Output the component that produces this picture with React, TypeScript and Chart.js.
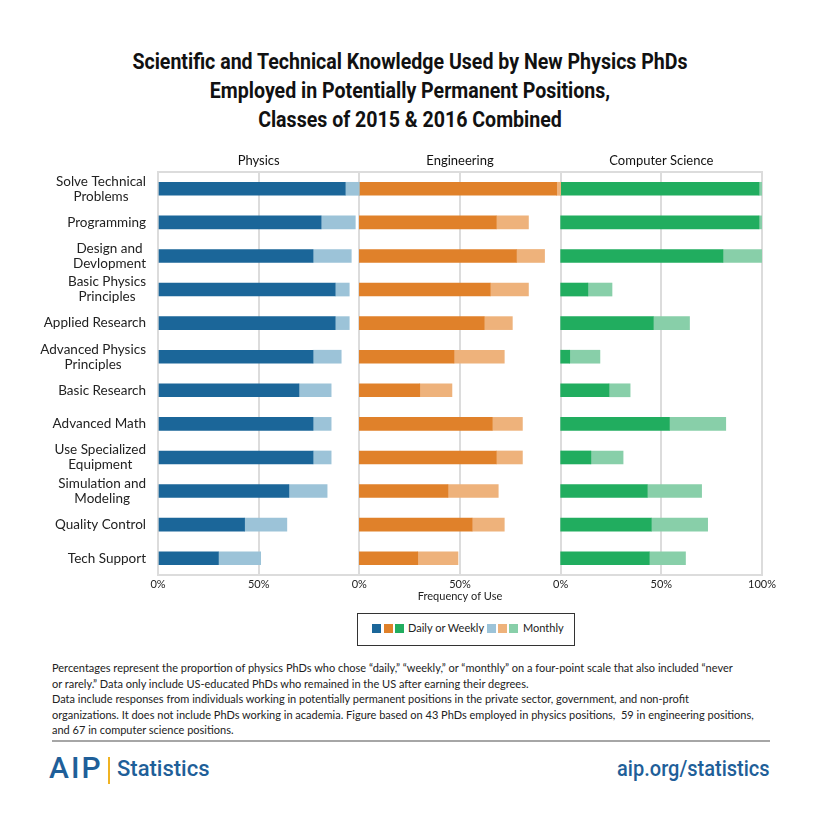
import React, { useEffect, useRef } from "react";
import { Chart, registerables } from "chart.js";
Chart.register(...registerables);

const categories: string[][] = [
  ["Solve Technical", "Problems"],
  ["Programming"],
  ["Design and", "Devlopment"],
  ["Basic Physics", "Principles"],
  ["Applied Research"],
  ["Advanced Physics", "Principles"],
  ["Basic Research"],
  ["Advanced Math"],
  ["Use Specialized", "Equipment"],
  ["Simulation and", "Modeling"],
  ["Quality Control"],
  ["Tech Support"],
];
const fields = ["Physics", "Engineering", "Computer Science"];
const physicsDaily = [93, 81, 77, 88, 88, 77, 70, 77, 77, 65, 43, 30];
const physicsMonthly = [7, 17, 19, 7, 7, 14, 16, 9, 9, 19, 21, 21];
const engineeringDaily = [98, 68, 78, 65, 62, 47, 30, 66, 68, 44, 56, 29];
const engineeringMonthly = [2, 16, 14, 19, 14, 25, 16, 15, 13, 25, 16, 20];
const csDaily = [98.5, 98.5, 80.6, 13.5, 46, 4.5, 24, 54, 15, 43, 45, 44];
const csMonthly = [1.5, 1.5, 19.4, 12, 18, 15, 10.5, 28, 16, 27, 28, 18];
const tickValues = [0, 50, 100, 150, 200, 250, 300];
const tickLabels = ["0%", "50%", "0%", "50%", "0%", "50%", "100%"];
const headerValues = [50, 150, 250];
const darkColors = ["#1b6699", "#e0812a", "#21ad5f"];
const lightColors = ["#9cc3d8", "#eeb27b", "#88cfa9"];

const LABEL_FONT = "Lato, 'Open Sans', sans-serif";

const catLabelPlugin = {
  id: "catLabels",
  afterDraw(chart: any) {
    const { ctx, chartArea } = chart;
    const y = chart.scales.y;
    ctx.save();
    ctx.font = `13.5px ${LABEL_FONT}`;
    ctx.fillStyle = "#222";
    ctx.textAlign = "center";
    ctx.textBaseline = "middle";
    categories.forEach((lines, i) => {
      const py = y.getPixelForValue(i);
      const w = Math.max(...lines.map((l) => ctx.measureText(l).width));
      const cx = chartArea.left - 12 - w / 2;
      const lh = 15;
      lines.forEach((l, j) => ctx.fillText(l, cx, py + (j - (lines.length - 1) / 2) * lh));
    });
    ctx.restore();
  },
};

function ChartCanvas() {
  const ref = useRef<HTMLCanvasElement | null>(null);
  useEffect(() => {
    const daily = [physicsDaily, engineeringDaily, csDaily];
    const monthly = [physicsMonthly, engineeringMonthly, csMonthly];
    const datasets: any[] = [];
    fields.forEach((f, p) => {
      const off = p * 100;
      datasets.push({
        label: f + " Daily or Weekly",
        data: daily[p].map((v) => [off, off + v]),
        backgroundColor: darkColors[p],
        borderWidth: 0,
        grouped: false,
        barThickness: 13,
      });
      datasets.push({
        label: f + " Monthly",
        data: monthly[p].map((v, i) => [off + daily[p][i], off + daily[p][i] + v]),
        backgroundColor: lightColors[p],
        borderWidth: 0,
        grouped: false,
        barThickness: 13,
      });
    });
    const chart = new Chart(ref.current as HTMLCanvasElement, {
      type: "bar",
      data: { labels: categories.map((c) => c.join(" ")), datasets },
      plugins: [catLabelPlugin],
      options: {
        indexAxis: "y",
        animation: false,
        responsive: false,
        devicePixelRatio: 1,
        layout: { padding: { left: 0, right: 58, top: 0, bottom: 0 } },
        plugins: { legend: { display: false }, tooltip: { enabled: false } },
        scales: {
          x: {
            type: "linear",
            position: "bottom",
            min: 0,
            max: 300,
            afterBuildTicks: (s: any) => {
              s.ticks = tickValues.map((v) => ({ value: v }));
            },
            ticks: {
              autoSkip: false,
              maxRotation: 0,
              padding: 3,
              color: "#222",
              font: { family: LABEL_FONT, size: 11 },
              callback: (_v: any, i: number) => tickLabels[i],
            },
            grid: { color: "#dcdcdc", lineWidth: 2, drawTicks: false },
            border: { color: "#dcdcdc", width: 2 },
            title: {
              display: true,
              text: "Frequency of Use",
              color: "#222",
              font: { family: LABEL_FONT, size: 11 },
              padding: { top: 0, bottom: 7 },
            },
            afterFit: (s: any) => {
              s.height = 35;
            },
          },
          x2: {
            type: "linear",
            position: "top",
            min: 0,
            max: 300,
            afterBuildTicks: (s: any) => {
              s.ticks = headerValues.map((v) => ({ value: v }));
            },
            ticks: {
              autoSkip: false,
              maxRotation: 0,
              padding: 3,
              color: "#111",
              font: { family: LABEL_FONT, size: 13 },
              callback: (_v: any, i: number) => fields[i],
            },
            grid: { display: false, drawTicks: false },
            border: { display: true, color: "#dcdcdc", width: 2 },
            afterFit: (s: any) => {
              s.height = 27;
            },
          },
          y: {
            type: "category",
            ticks: { display: false },
            grid: { display: false, drawTicks: false },
            border: { display: false },
            afterFit: (s: any) => {
              s.width = 158;
            },
          },
        },
      } as any,
    });
    return () => chart.destroy();
  }, []);
  return (
    <canvas
      ref={ref}
      width={820}
      height={465}
      style={{ position: "absolute", left: 0, top: 145, width: 820, height: 465 }}
    />
  );
}

const sq = (left: number, color: string) => (
  <div style={{ position: "absolute", left, top: 10, width: 9, height: 9, background: color }} />
);

export default function App() {
  useEffect(() => {
    document.body.style.margin = "0";
  }, []);
  const blue = "#1f5f99";
  return (
    <div style={{ position: "relative", width: 820, height: 820, background: "#fff", overflow: "hidden" }}>
      <div
        style={{
          position: "absolute",
          left: 0,
          top: 47,
          width: 820,
          textAlign: "center",
          fontFamily: "Roboto, sans-serif",
          fontWeight: 700,
          fontSize: 21.5,
          lineHeight: "29px",
          color: "#111",
          transform: "scaleX(0.91)",
          transformOrigin: "410px 0",
        }}
      >
        Scientific and Technical Knowledge Used by New Physics PhDs
        <br />
        Employed in Potentially Permanent Positions,
        <br />
        Classes of 2015 &amp; 2016 Combined
      </div>
      <ChartCanvas />
      <div
        style={{
          position: "absolute",
          left: 357,
          top: 613,
          width: 218,
          height: 33,
          border: "1.5px solid #333",
          boxSizing: "border-box",
          fontFamily: LABEL_FONT,
          fontSize: 11,
          color: "#222",
        }}
      >
        {sq(14, darkColors[0])}
        {sq(26, darkColors[1])}
        {sq(37, darkColors[2])}
        <div style={{ position: "absolute", left: 50, top: 7, whiteSpace: "nowrap" }}>Daily or Weekly</div>
        {sq(129, lightColors[0])}
        {sq(140, lightColors[1])}
        {sq(151, lightColors[2])}
        <div style={{ position: "absolute", left: 165, top: 7, whiteSpace: "nowrap" }}>Monthly</div>
      </div>
      <div
        style={{
          position: "absolute",
          left: 52,
          top: 660,
          fontFamily: LABEL_FONT,
          fontSize: 11,
          lineHeight: "15.6px",
          color: "#222",
          whiteSpace: "nowrap",
        }}
      >
        Percentages represent the proportion of physics PhDs who chose “daily,” “weekly,” or “monthly” on a four-point scale that also included “never
        <br />
        or rarely.” Data only include US-educated PhDs who remained in the US after earning their degrees.
        <br />
        Data include responses from individuals working in potentially permanent positions in the private sector, government, and non-profit
        <br />
        organizations. It does not include PhDs working in academia. Figure based on 43 PhDs employed in physics positions,&nbsp; 59 in engineering positions,
        <br />
        and 67 in computer science positions.
      </div>
      <div style={{ position: "absolute", left: 52, top: 740, width: 718, height: 2, background: "#a6a6a6" }} />
      <div
        style={{
          position: "absolute",
          left: 49,
          top: 751,
          fontFamily: "Roboto, sans-serif",
          fontSize: 30,
          fontWeight: 500,
          lineHeight: "34px",
          color: blue,
          letterSpacing: 2,
        }}
      >
        AIP
      </div>
      <div style={{ position: "absolute", left: 108, top: 757, width: 2, height: 27, background: "#f0b323" }} />
      <div
        style={{
          position: "absolute",
          left: 117,
          top: 755,
          fontFamily: "Roboto, sans-serif",
          fontSize: 22,
          fontWeight: 500,
          lineHeight: "28px",
          color: blue,
        }}
      >
        Statistics
      </div>
      <div
        style={{
          position: "absolute",
          right: 50,
          top: 755,
          fontFamily: "Roboto, sans-serif",
          fontSize: 22,
          fontWeight: 500,
          lineHeight: "28px",
          color: blue,
          transform: "scaleX(0.91)",
          transformOrigin: "100% 0",
        }}
      >
        aip.org/statistics
      </div>
    </div>
  );
}
